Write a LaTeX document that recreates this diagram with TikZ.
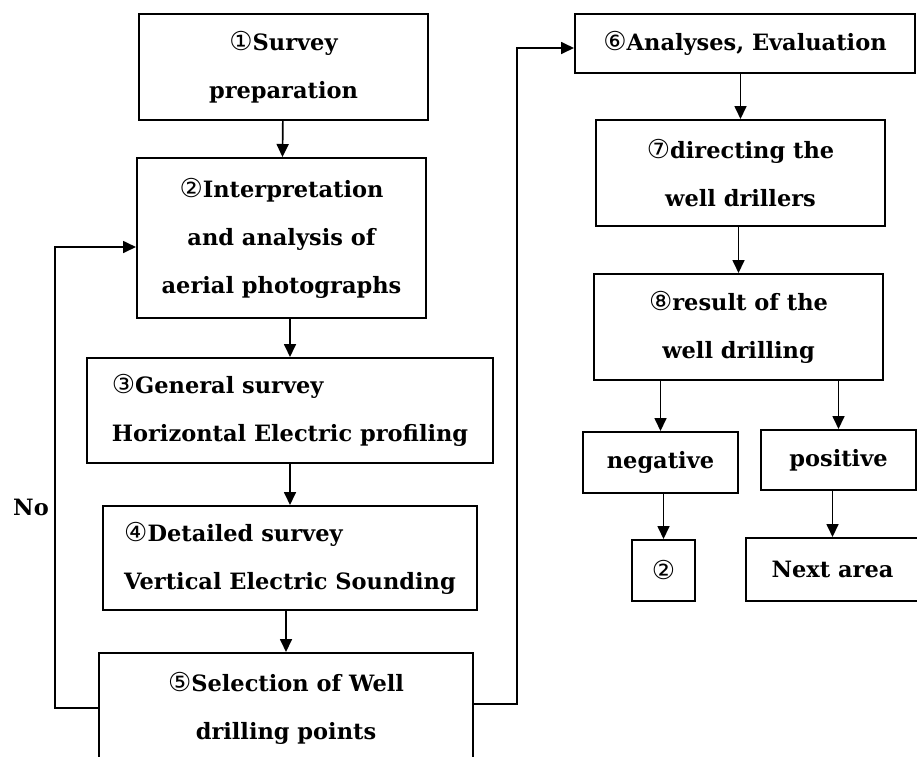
\documentclass[tikz,border=0pt]{standalone}
\usepackage{fontspec}
\setmainfont{DejaVu Serif}
\newfontfamily\circfont{DejaVu Sans}
\usetikzlibrary{arrows.meta}
\newcommand{\cnum}[1]{{\circfont\mdseries\fontsize{26}{48}\selectfont #1}}
\begin{document}
\begin{tikzpicture}[x=1pt,y=-1pt,
    box/.style={draw,line width=2pt,inner sep=0pt,align=center,
      font=\bfseries\fontsize{22.5}{48}\selectfont},
    flow/.style={-{Triangle[length=13pt,width=12pt]},line width=1.7pt}]
    \clip (0,0) rectangle (917,756);
    % left column
    \node[box,minimum width=289,minimum height=106] (b1) at (283.5,67) {\cnum{①}Survey\\preparation};
    \node[box,minimum width=289,minimum height=160] (b2) at (281.5,238) {\cnum{②}Interpretation\\and analysis of\\aerial photographs};
    \node[box,align=left,minimum width=406,minimum height=105] (b3) at (290,410.5) {\cnum{③}General survey\\Horizontal Electric profiling};
    \node[box,align=left,minimum width=374,minimum height=104] (b4) at (290,558) {\cnum{④}Detailed survey\\Vertical Electric Sounding};
    \node[box,minimum width=374,minimum height=110] (b5) at (286,708) {\cnum{⑤}Selection of Well\\drilling points};
    % right column
    \node[box,minimum width=340,minimum height=59] (b6) at (745,43.5) {\cnum{⑥}Analyses, Evaluation};
    \node[box,minimum width=289,minimum height=106] (b7) at (740.5,173) {\cnum{⑦}directing the\\well drillers};
    \node[box,minimum width=289,minimum height=106] (b8) at (738.5,327) {\cnum{⑧}result of the\\well drilling};
    \node[box,minimum width=155,minimum height=61] (neg) at (660.5,462.5) {negative};
    \node[box,minimum width=155,minimum height=60] (pos) at (838.5,460) {positive};
    \node[box,minimum width=63,minimum height=61] (two) at (663.5,570.5) {\cnum{②}};
    \node[box,minimum width=173,minimum height=63] (next) at (832.5,569.5) {Next area};
    \node[font=\bfseries\fontsize{22.5}{24}\selectfont] (no) at (31,507) {No};
    % arrows
    \draw[flow] (b1) -- (b2);
    \draw[flow] (b2.south -| b3.north) -- (b3.north);
    \draw[flow] (b3) -- (b4);
    \draw[flow] (b4.south -| b5.north) -- (b5.north);
    \draw[flow] (b6.south -| b7.north) -- (b7.north);
    \draw[flow] (b7.south -| b8.north) -- (b8.north);
    \draw[flow] (b8.south -| neg.north) -- (neg.north);
    \draw[flow] (b8.south -| pos.north) -- (pos.north);
    \draw[flow] (neg.south -| two.north) -- (two.north);
    \draw[flow] (pos.south -| next.north) -- (next.north);
    % loops
    \coordinate (noturn) at (55,708);
    \coordinate (goturn) at (517,704);
    \draw[flow] (b5.west |- noturn) -- (noturn) |- ([yshift=-9pt]b2.west);
    \draw[flow] (b5.east |- goturn) -- (goturn) |- ([yshift=-4.5pt]b6.west);
\end{tikzpicture}
\end{document}
